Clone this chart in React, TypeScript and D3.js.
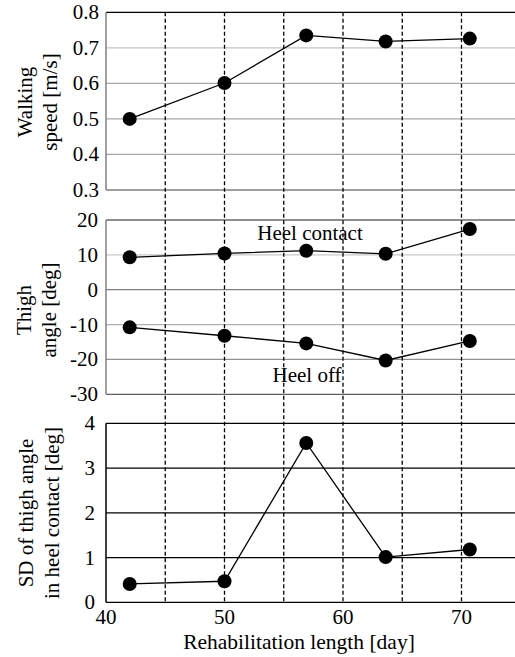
import React from "react";
import * as d3 from "d3";

const days = [42, 50, 56.9, 63.6, 70.7];
const walkingSpeed = [0.5, 0.601, 0.735, 0.718, 0.726];
const heelContact = [9.3, 10.4, 11.2, 10.3, 17.4];
const heelOff = [-10.8, -13.2, -15.4, -20.3, -14.7];
const sdHeelContact = [0.41, 0.47, 3.56, 1.01, 1.18];

const xTicks = [40, 50, 60, 70];
const dashedDays = [45, 50, 55, 60, 65, 70];
const speedTicks = [0.3, 0.4, 0.5, 0.6, 0.7, 0.8];
const angleTicks = [-30, -20, -10, 0, 10, 20];
const sdTicks = [0, 1, 2, 3, 4];

const W = 515;
const H = 657;
const FS = 21;

const x = d3.scaleLinear().domain([40, 75]).range([106, 520.75]);
const yTop = d3.scaleLinear().domain([0.3, 0.8]).range([190, 12.3]);
const yMid = d3.scaleLinear().domain([-30, 20]).range([394.3, 220]);
const yBot = d3.scaleLinear().domain([0, 4]).range([602.3, 423.3]);

const topGridColor = (v: number) =>
  v === 0.8 ? "#000" : v === 0.3 ? "#808080" : v === 0.7 ? "#c4c4c4" : "#a8a8a8";
const midGridColor = (v: number) =>
  ({ 20: "#6a6a6a", 10: "#c8c8c8", 0: "#808080", [-10]: "#b0b0b0", [-20]: "#909090", [-30]: "#606060" } as any)[v];

const textStyle = { fontFamily: `'Liberation Serif'`, fontSize: FS };

function Series({ ys, y }: { ys: number[]; y: d3.ScaleLinear<number, number> }) {
  const line = d3
    .line<number>()
    .x((_, i) => x(days[i]))
    .y((v) => y(v));
  return (
    <g>
      <path d={line(ys) || ""} fill="none" stroke="#000" strokeWidth={1.3} />
      {ys.map((v, i) => (
        <circle key={i} cx={x(days[i])} cy={y(v)} r={7} fill="#000" />
      ))}
    </g>
  );
}

function YTicks({ ticks, y, fmt, right }: { ticks: number[]; y: d3.ScaleLinear<number, number>; fmt: (v: number) => string; right: number }) {
  return (
    <g>
      {ticks.map((t) => (
        <text key={t} x={right} y={y(t) + 7} textAnchor="end" style={textStyle}>
          {fmt(t)}
        </text>
      ))}
    </g>
  );
}

function YTitle({ lines, cx, cy }: { lines: string[]; cx: number[]; cy: number }) {
  return (
    <g>
      {lines.map((l, i) => (
        <text key={i} transform={`translate(${cx[i] + 7},${cy}) rotate(-90)`} textAnchor="middle" style={textStyle}>
          {l}
        </text>
      ))}
    </g>
  );
}

export default function App() {
  const [x0] = x.range();
  return (
    <svg width={W} height={H} style={{ position: "absolute", left: 0, top: 0 }}>
      <rect width={W} height={H} fill="#fff" />
      {speedTicks.map((t) => (
        <line key={t} x1={x0} x2={W} y1={yTop(t)} y2={yTop(t)} stroke={topGridColor(t)} strokeWidth={1.3} />
      ))}
      <line x1={x0} x2={x0} y1={yTop(0.8)} y2={yTop(0.3)} stroke="#808080" strokeWidth={1.5} />

      {angleTicks.map((t) => (
        <line key={t} x1={x0} x2={W} y1={yMid(t)} y2={yMid(t)} stroke={midGridColor(t)} strokeWidth={1.3} />
      ))}
      <line x1={x0} x2={x0} y1={yMid(20)} y2={yMid(-30)} stroke="#808080" strokeWidth={1.5} />

      {sdTicks.map((t) => (
        <line key={t} x1={x0} x2={W} y1={yBot(t)} y2={yBot(t)} stroke="#000" strokeWidth={1.3} />
      ))}
      <line x1={x0} x2={x0} y1={yBot(4)} y2={yBot(0)} stroke="#000" strokeWidth={1.5} />

      {dashedDays.map((d) => (
        <line key={d} x1={x(d)} x2={x(d)} y1={yTop(0.8)} y2={yBot(0)} stroke="#000" strokeWidth={1.3} strokeDasharray="4,2.5" />
      ))}

      <Series ys={walkingSpeed} y={yTop} />
      <Series ys={heelContact} y={yMid} />
      <Series ys={heelOff} y={yMid} />
      <Series ys={sdHeelContact} y={yBot} />

      <text x={310} y={240} textAnchor="middle" style={textStyle}>
        Heel contact
      </text>
      <text x={307} y={382} textAnchor="middle" style={textStyle}>
        Heel off
      </text>

      <YTicks ticks={speedTicks} y={yTop} fmt={(v) => v.toFixed(1)} right={99} />
      <YTicks ticks={angleTicks} y={yMid} fmt={(v) => String(v)} right={98} />
      <YTicks ticks={sdTicks} y={yBot} fmt={(v) => String(v)} right={95} />

      <YTitle lines={["Walking", "speed [m/s]"]} cx={[25, 50]} cy={102} />
      <YTitle lines={["Thigh", "angle [deg]"]} cx={[24, 49]} cy={310} />
      <YTitle lines={["SD of thigh angle", "in heel contact [deg]"]} cx={[26, 52]} cy={513} />

      {xTicks.map((t) => (
        <text key={t} x={x(t)} y={624} textAnchor="middle" style={textStyle}>
          {t}
        </text>
      ))}
      <text x={299} y={649} textAnchor="middle" style={{ ...textStyle, fontSize: 21.5 }}>
        Rehabilitation length [day]
      </text>
    </svg>
  );
}
